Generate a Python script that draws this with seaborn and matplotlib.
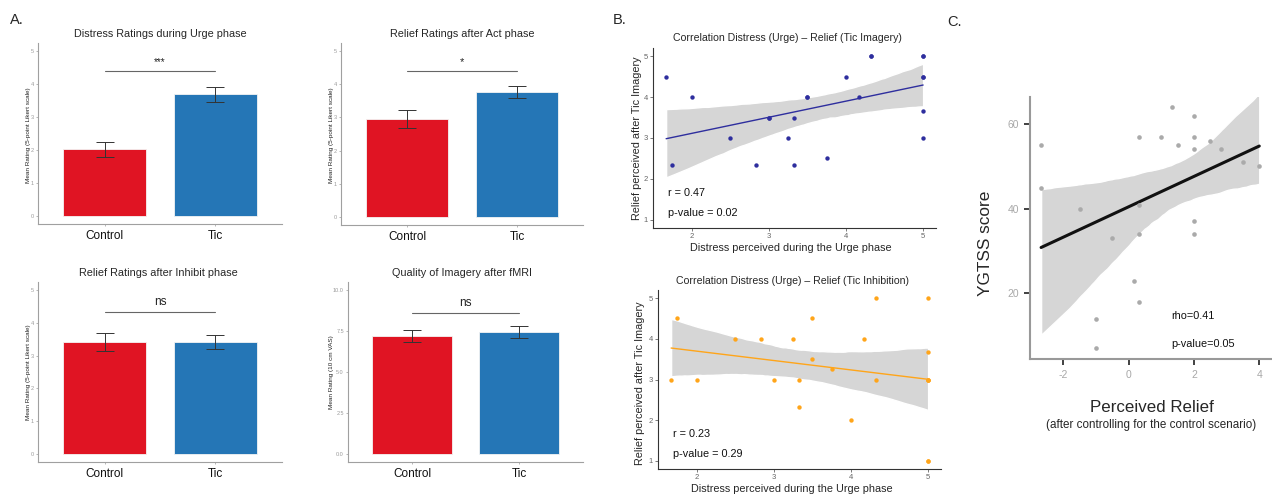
import matplotlib
matplotlib.use("Agg")
import matplotlib.pyplot as plt
import seaborn as sns
from matplotlib.collections import PolyCollection

sns.set_theme(style="white")
plt.rcParams["font.family"] = ["Liberation Sans", "DejaVu Sans"]
plt.rcParams["axes.unicode_minus"] = False

W, H = 1272, 496

# A. mean ratings (+/- SE) per condition
groups = ["Control", "Tic"]
bar_colors = ["#E01423", "#2576B6"]
urge_distress_mean = [2.02, 3.69]
urge_distress_se = [0.22, 0.22]
act_relief_mean = [2.96, 3.77]
act_relief_se = [0.27, 0.19]
inhibit_relief_mean = [3.42, 3.41]
inhibit_relief_se = [0.27, 0.21]
imagery_quality_mean = [7.18, 7.43]
imagery_quality_se = [0.36, 0.37]

# B. distress (urge) vs relief, n = 23 (some points overlap)
distress_img = [1.67, 1.75, 2.0, 2.5, 2.83, 3.0, 3.0, 3.25, 3.33, 3.33, 3.5, 3.5, 3.75, 4.0,
                4.17, 4.33, 4.33, 5.0, 5.0, 5.0, 5.0, 5.0, 5.0]
relief_img = [4.5, 2.33, 4.0, 3.0, 2.33, 3.5, 3.5, 3.0, 3.5, 2.33, 4.0, 4.0, 2.5, 4.5,
              4.0, 5.0, 5.0, 5.0, 5.0, 4.5, 4.5, 3.67, 3.0]
distress_inh = [1.67, 1.75, 2.0, 2.5, 2.83, 3.0, 3.25, 3.33, 3.33, 3.5, 3.5, 3.75, 4.0, 4.17,
                4.33, 4.33, 5.0, 5.0, 5.0, 5.0, 5.0, 5.0, 5.0]
relief_inh = [3.0, 4.5, 3.0, 4.0, 4.0, 3.0, 4.0, 3.0, 2.33, 4.5, 3.5, 3.25, 2.0, 4.0,
              5.0, 3.0, 5.0, 3.67, 3.0, 3.0, 3.0, 1.0, 1.0]

# C. perceived relief vs YGTSS
relief_ctrl = [-2.68, -2.68, -1.5, -1.0, -1.0, -0.5, 0.17, 0.33, 0.33, 0.33, 0.33, 1.0, 1.33, 1.5,
               2.0, 2.0, 2.0, 2.0, 2.0, 2.5, 2.83, 3.5, 4.0]
ygtss = [55, 45, 40, 14, 7, 33, 23, 57, 41, 34, 18, 57, 64, 55, 62, 57, 54, 37, 34, 56, 54, 51, 50]

fig = plt.figure(figsize=(W / 100, H / 100), dpi=100)


def add_ax(l, t, r, b):
    return fig.add_axes([l / W, 1 - b / H, (r - l) / W, (b - t) / H])


def ftext(x, y, s, **kw):
    kw.setdefault("ha", "center")
    kw.setdefault("va", "center")
    fig.text(x / W, 1 - y / H, s, **kw)


def bar_panel(ax, means, se, ymax, ticks, fmt, sig, sig_y, sig_size):
    sns.barplot(x=groups, y=means, hue=groups, palette=bar_colors, legend=False,
                saturation=1, width=0.75, edgecolor="#f4f4f4", linewidth=0.6, ax=ax)
    ax.errorbar([0, 1], means, yerr=se, fmt="none", ecolor="#333333",
                elinewidth=0.7, capsize=6.5, capthick=0.7)
    ax.plot([0, 1], [sig_y, sig_y], color="#666666", lw=0.8)
    ax.text(0.5, sig_y + ymax * 0.025, sig, ha="center", va="bottom",
            fontsize=sig_size, color="#222222")
    ax.set_xlim(-0.6, 1.6)
    ax.set_ylim(-0.05 * ymax, 1.05 * ymax)
    ax.set_yticks(ticks)
    ax.set_yticklabels([fmt.format(t) for t in ticks])
    ax.tick_params(axis="y", labelsize=4, colors="#9a9a9a", length=1.5, width=0.5, pad=1.5)
    ax.tick_params(axis="x", labelsize=8.5, labelcolor="#111111", colors="#9a9a9a",
                   length=1.5, width=0.5, pad=3)
    ax.tick_params(left=True, bottom=True)
    for s in ["top", "right"]:
        ax.spines[s].set_visible(False)
    for s in ["left", "bottom"]:
        ax.spines[s].set_color("#a0a0a0")
        ax.spines[s].set_linewidth(0.8)
    ax.set_xlabel("")
    ax.set_ylabel("")


def reg_panel(ax, x, y, color, pt_size, lw):
    sns.regplot(x=x, y=y, ax=ax, color=color, ci=95, seed=0,
                scatter_kws={"s": pt_size, "linewidths": 0, "alpha": 1, "zorder": 3},
                line_kws={"lw": lw, "zorder": 2})
    for c in ax.collections:
        if isinstance(c, PolyCollection):
            c.set_facecolor("#D6D6D6")
            c.set_alpha(1)
            c.set_zorder(1)
    for s in ["top", "right"]:
        ax.spines[s].set_visible(False)
    ax.tick_params(left=True, bottom=True)


# ---- A ----
likert = [0, 1, 2, 3, 4, 5]
a1 = add_ax(38, 43, 282, 224)
bar_panel(a1, urge_distress_mean, urge_distress_se, 5, likert, "{:d}", "***", 4.39, 7)
a2 = add_ax(341, 43, 583, 225)
bar_panel(a2, act_relief_mean, act_relief_se, 5, likert, "{:d}", "*", 4.39, 8)
a3 = add_ax(38, 282, 282, 462)
bar_panel(a3, inhibit_relief_mean, inhibit_relief_se, 5, likert, "{:d}", "ns", 4.32, 8.5)
a4 = add_ax(348, 282, 583, 462)
bar_panel(a4, imagery_quality_mean, imagery_quality_se, 10, [0, 2.5, 5, 7.5, 10], "{:.1f}", "ns", 8.62, 8.5)

ftext(160, 34, "Distress Ratings during Urge phase", fontsize=7.8)
ftext(462, 34, "Relief Ratings after Act phase", fontsize=7.8)
ftext(158, 273, "Relief Ratings after Inhibit phase", fontsize=7.8)
ftext(462, 273, "Quality of Imagery after fMRI", fontsize=7.8)
for x, y, s in [(29, 135, "Mean Rating (5-point Likert scale)"),
                (332, 135, "Mean Rating (5-point Likert scale)"),
                (29, 372, "Mean Rating (5-point Likert scale)"),
                (332, 372, "Mean Rating (10 cm VAS)")]:
    ftext(x, y, s, fontsize=4.6, rotation=90, color="#222222")
ftext(10, 20, "A.", fontsize=10.5, ha="left")

# ---- B ----
b1 = add_ax(653, 48, 936, 228)
reg_panel(b1, distress_img, relief_img, "#2E2E9E", 10, 1.0)
b2 = add_ax(658, 290, 941, 469)
reg_panel(b2, distress_inh, relief_inh, "#FFA51A", 10, 1.0)
for ax in (b1, b2):
    ax.set_xlim(1.5, 5.167)
    ax.set_ylim(0.8, 5.2)
    ax.set_xticks([2, 3, 4, 5])
    ax.set_yticks([1, 2, 3, 4, 5])
    ax.tick_params(labelsize=5.5, colors="#666666", length=2, width=0.6, pad=1.5)
    for s in ["left", "bottom"]:
        ax.spines[s].set_color("#333333")
        ax.spines[s].set_linewidth(0.8)
b1.text(1.69, 1.66, "r = 0.47", fontsize=7.8, va="center", color="#111111")
b1.text(1.69, 1.17, "p-value = 0.02", fontsize=7.8, va="center", color="#111111")
b2.text(1.69, 1.67, "r = 0.23", fontsize=7.8, va="center", color="#111111")
b2.text(1.69, 1.18, "p-value = 0.29", fontsize=7.8, va="center", color="#111111")

ftext(787, 38, "Correlation Distress (Urge) \u2013 Relief (Tic Imagery)", fontsize=7.6)
ftext(792, 281, "Correlation Distress (Urge) \u2013 Relief (Tic Inhibition)", fontsize=7.6)
ftext(637, 138, "Relief perceived after Tic Imagery", fontsize=7.8, rotation=90)
ftext(640, 383, "Relief perceived after Tic Imagery", fontsize=7.8, rotation=90)
ftext(791, 248, "Distress perceived during the Urge phase", fontsize=7.8)
ftext(792, 489, "Distress perceived during the Urge phase", fontsize=7.8)
ftext(613, 20, "B.", fontsize=10.5, ha="left")

# ---- C ----
c = add_ax(1030, 97, 1272, 359)
reg_panel(c, relief_ctrl, ygtss, "#AAAAAA", 11, 2.2)
c.lines[-1].set_color("#111111")
c.set_xlim(-3.02, 4.39)
c.set_ylim(4.5, 66.4)
c.set_xticks([-2, 0, 2, 4])
c.set_yticks([20, 40, 60])
c.tick_params(labelsize=7.5, labelcolor="#a8a8a8", colors="#333333",
              length=4, width=1.3, pad=4, direction="out")
for s in ["left", "bottom"]:
    c.spines[s].set_color("#999999")
    c.spines[s].set_linewidth(1.5)
c.text(1.31, 14.7, "rho=0.41", fontsize=7.8, va="center", color="#111111")
c.text(1.31, 8.1, "p-value=0.05", fontsize=7.8, va="center", color="#111111")

ftext(985, 243, "YGTSS score", fontsize=12.4, rotation=90)
ftext(1152, 407, "Perceived Relief", fontsize=12.2)
ftext(1151, 425, "(after controlling for the control scenario)", fontsize=8.4)
ftext(947, 22, "C.", fontsize=10.5, ha="left")

fig.savefig("out.png", dpi=100)
